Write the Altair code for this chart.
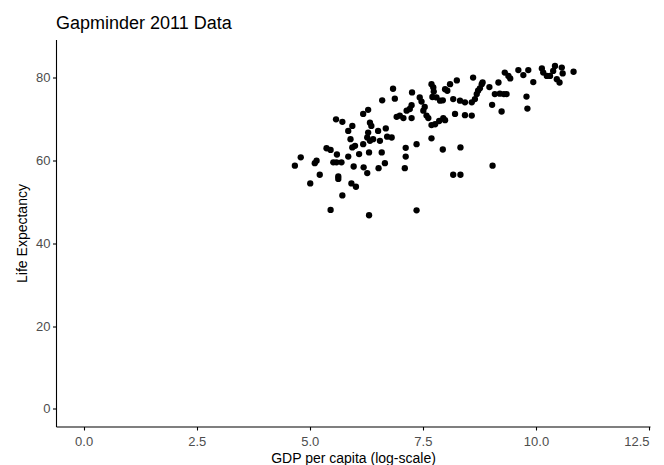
import altair as alt
import pandas as pd

# log GDP per capita and life expectancy, one entry per country (2011)
gdp_log = [
    4.67, 4.80, 5.01, 5.11, 5.15, 5.22, 5.37, 5.46, 5.60, 5.52, 5.59, 5.70, 5.63, 5.63, 5.72, 5.46,
    5.58, 5.72, 5.85, 5.94, 5.90, 5.94, 6.00, 5.85, 5.97, 6.09, 5.92, 6.02,
    6.18, 6.29, 6.33, 6.36, 6.29, 6.27, 6.33, 6.40, 6.51, 6.55, 6.18, 6.31, 6.19, 6.27, 6.52, 6.59,
    6.66, 6.68, 6.71, 6.81, 6.31,
    6.60, 6.84, 6.88, 6.92, 6.99, 7.07, 7.14, 7.21, 7.25, 7.25, 7.26, 7.36, 7.12, 7.12, 7.10, 7.36,
    7.43, 7.47, 7.51, 7.58, 7.54, 7.62, 7.69, 7.73, 7.74, 7.71, 7.80, 7.88, 7.94, 7.69, 7.77, 7.86,
    7.95, 7.99, 7.69, 7.94, 7.99, 8.10, 8.04,
    8.17, 8.25, 8.32, 8.21, 8.43, 8.43, 8.58, 8.58, 8.61, 8.65, 8.69, 8.72, 8.76, 8.82, 8.80, 8.17,
    8.33, 8.33,
    8.97, 9.03, 9.09, 9.17, 9.20, 9.29, 9.35, 9.24, 9.04,
    9.31, 9.39, 9.43, 9.61, 9.72, 9.83, 9.79, 9.81, 9.94,
    10.13, 10.16, 10.24, 10.31, 10.38, 10.42, 10.46, 10.52, 10.57, 10.59, 10.83,
]
life_exp = [
    58.8, 60.8, 54.5, 59.4, 60.0, 56.6, 63.0, 62.6, 61.5, 59.6, 59.6, 59.6, 56.2, 55.6, 51.6, 48.1,
    70.0, 69.4, 67.2, 68.4, 65.2, 63.2, 63.6, 61.0, 58.6, 61.6, 54.5, 53.7,
    71.3, 72.3, 69.2, 68.4, 66.8, 65.6, 64.8, 65.2, 67.2, 64.8, 64.0, 62.0, 58.4, 57.0, 58.2, 62.0,
    59.4, 67.8, 65.8, 65.6, 46.8,
    74.6, 77.4, 75.0, 70.6, 70.9, 70.3, 72.1, 72.5, 70.3, 73.4, 76.5, 64.0, 63.1, 61.0, 58.2, 48.0,
    75.3, 74.3, 72.1, 70.9, 73.0, 70.3, 78.5, 77.7, 76.7, 75.4, 75.3, 74.5, 74.6, 68.6, 68.8, 69.6,
    70.3, 69.8, 65.4, 62.7, 77.3, 78.5, 76.9,
    74.9, 79.4, 74.5, 71.3, 74.1, 71.0, 70.9, 74.1, 80.1, 74.9, 76.1, 76.9, 77.5, 78.9, 78.5, 56.6,
    56.6, 63.2,
    77.8, 73.5, 76.1, 78.9, 76.2, 76.1, 76.1, 71.9, 58.8,
    81.3, 80.5, 79.9, 81.9, 80.7, 81.9, 75.5, 72.6, 79.0,
    82.3, 81.3, 80.5, 80.5, 81.7, 82.9, 79.7, 78.9, 82.5, 81.1, 81.5,
]

x_ticks = [0.0, 2.5, 5.0, 7.5, 10.0, 12.5]
y_ticks = [0, 20, 40, 60, 80]

df = pd.DataFrame({"gdp": gdp_log, "life": life_exp})

FONT = "Liberation Sans"

points = alt.Chart(df).mark_circle(size=40, color="black", opacity=1).encode(
    x=alt.X(
        "gdp:Q",
        scale=alt.Scale(domain=[-0.61, 12.52], nice=False, zero=False),
        axis=alt.Axis(
            title="GDP per capita (log-scale)",
            values=x_ticks,
            format=".1f",
            labelPadding=5,
            titlePadding=3,
        ),
    ),
    y=alt.Y(
        "life:Q",
        scale=alt.Scale(domain=[-4.27, 89.3], nice=False, zero=False),
        axis=alt.Axis(
            title="Life Expectancy",
            values=y_ticks,
            format="d",
            labelPadding=2.5,
            titlePadding=6,
        ),
    ),
)

chart = (
    points.properties(
        width=594,
        height=387,
        title=alt.TitleParams(
            "Gapminder 2011 Data",
            anchor="start",
            frame="group",
            font=FONT,
            fontSize=18,
            fontWeight="normal",
            color="black",
            baseline="alphabetic",
            offset=12,
            dy=19,
        ),
        autosize=alt.AutoSizeParams(type="none"),
        padding={"left": 56, "top": 39.5, "right": 14, "bottom": 38.5},
    )
    .configure_view(stroke=None)
    .configure_axis(
        grid=False,
        domainColor="black",
        domainWidth=1.1,
        tickColor="black",
        tickWidth=1.1,
        tickSize=3.5,
        labelFont=FONT,
        labelFontSize=13,
        labelColor="#4D4D4D",
        titleFont=FONT,
        titleFontSize=14,
        titleFontWeight="normal",
        titleColor="black",
    )
)

chart.save("out.html", embed_options={"renderer": "svg", "actions": False})
